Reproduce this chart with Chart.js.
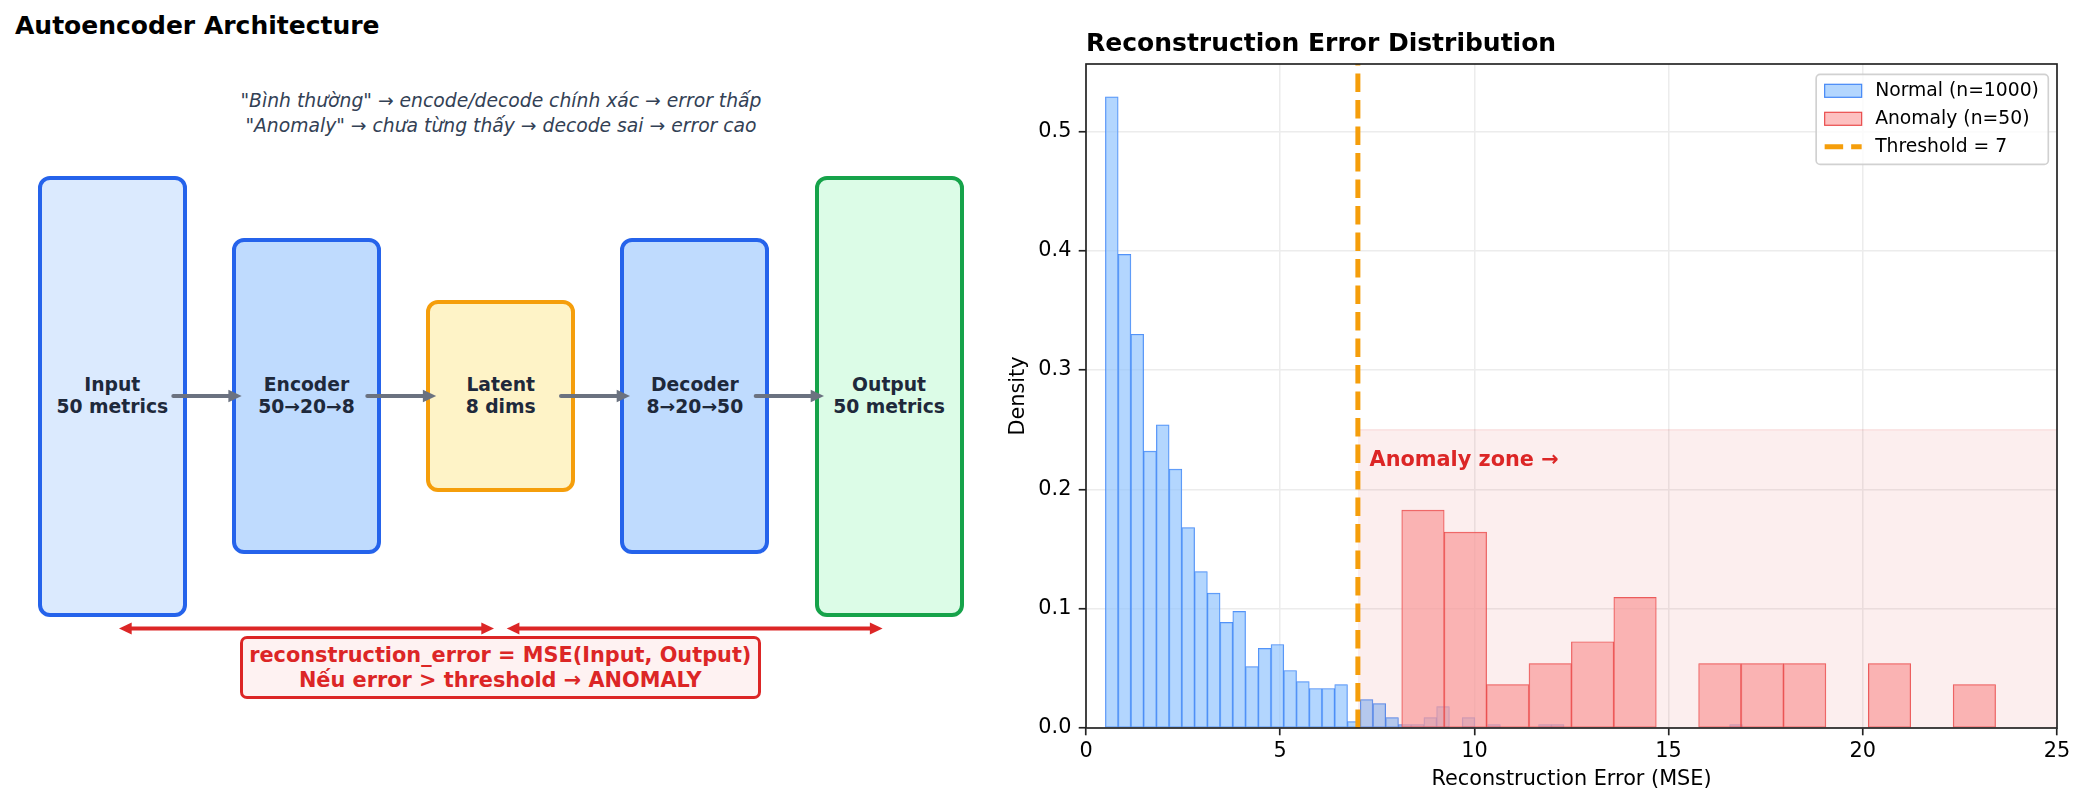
<!DOCTYPE html>
<html>
<head>
<meta charset="utf-8">
<script src="https://cdn.jsdelivr.net/npm/chart.js@4.4.1/dist/chart.umd.min.js"></script>
<style>
html,body{margin:0;padding:0;background:#fff;}
body{width:2085px;height:806px;position:relative;overflow:hidden;font-family:'DejaVu Sans',sans-serif;}
.title{position:absolute;left:15px;top:10.8px;font-size:25px;line-height:30px;font-weight:bold;color:#000;white-space:nowrap;}
.sub{position:absolute;left:0;width:1002px;top:88px;text-align:center;font-size:18.75px;line-height:25px;font-style:italic;color:#334155;white-space:nowrap;}
.box{position:absolute;box-sizing:border-box;border:4px solid;border-radius:12px;display:flex;align-items:center;justify-content:center;text-align:center;font-weight:bold;font-size:18.75px;line-height:22px;color:#1e293b;white-space:nowrap;}
.errbox{position:absolute;box-sizing:border-box;left:239.8px;top:636px;width:521px;height:63.3px;border:3px solid #dc2626;border-radius:7px;background:#fef2f2;display:flex;align-items:center;justify-content:center;text-align:center;font-weight:bold;font-size:20.83px;line-height:24.2px;color:#dc2626;white-space:nowrap;}
svg.arrows{position:absolute;left:0;top:0;}
#chartCanvas{position:absolute;left:960px;top:0;}
</style>
</head>
<body>
<div class="title">Autoencoder Architecture</div>
<div class="sub">"Bình thường" → encode/decode chính xác → error thấp<br>"Anomaly" → chưa từng thấy → decode sai → error cao</div>

<div class="box" style="left:37.8px;top:175.5px;width:149px;height:441px;background:#dbeafe;border-color:#2563eb;">Input<br>50 metrics</div>
<div class="box" style="left:232px;top:238px;width:149px;height:316px;background:#bfdbfe;border-color:#2563eb;">Encoder<br>50→20→8</div>
<div class="box" style="left:426.2px;top:300px;width:149px;height:192px;background:#fef3c7;border-color:#f59e0b;">Latent<br>8 dims</div>
<div class="box" style="left:620.4px;top:238px;width:149px;height:316px;background:#bfdbfe;border-color:#2563eb;">Decoder<br>8→20→50</div>
<div class="box" style="left:814.6px;top:175.5px;width:149px;height:441px;background:#dcfce7;border-color:#16a34a;">Output<br>50 metrics</div>

<svg class="arrows" width="960" height="806" xmlns="http://www.w3.org/2000/svg">
  <g stroke="#6b7280" stroke-width="4" stroke-linecap="round" fill="#6b7280">
    <line x1="173.3" y1="396" x2="230" y2="396"/><polygon stroke="none" points="241.7,396 228.4,389.8 228.4,402.2"/>
    <line x1="367.3" y1="396" x2="424.5" y2="396"/><polygon stroke="none" points="436.2,396 422.9,389.8 422.9,402.2"/>
    <line x1="561" y1="396" x2="618.3" y2="396"/><polygon stroke="none" points="630,396 616.7,389.8 616.7,402.2"/>
    <line x1="755.7" y1="396" x2="812.3" y2="396"/><polygon stroke="none" points="824,396 810.7,389.8 810.7,402.2"/>
  </g>
  <g stroke="#dc2626" stroke-width="4" fill="#dc2626">
    <line x1="129" y1="628.5" x2="484" y2="628.5"/>
    <polygon stroke="none" points="119,628.5 131.7,622.6 131.7,634.4"/>
    <polygon stroke="none" points="494,628.5 481.3,622.6 481.3,634.4"/>
    <line x1="516.7" y1="628.5" x2="872.6" y2="628.5"/>
    <polygon stroke="none" points="506.7,628.5 519.4,622.6 519.4,634.4"/>
    <polygon stroke="none" points="882.6,628.5 869.9,622.6 869.9,634.4"/>
  </g>
</svg>

<div class="errbox">reconstruction_error = MSE(Input, Output)<br>Nếu error &gt; threshold → ANOMALY</div>

<canvas id="chartCanvas" width="1125" height="806" style="width:1125px;height:806px;"></canvas>

<script>
// ---------- data ----------
const normalBinCenters = [0.664, 0.992, 1.320, 1.648, 1.976, 2.304, 2.632, 2.960, 3.288, 3.616,
  3.944, 4.272, 4.600, 4.928, 5.256, 5.584, 5.912, 6.240, 6.568, 6.896,
  7.224, 7.552, 7.880, 8.208, 8.536, 8.864, 9.192, 9.520, 9.848, 10.176,
  10.504, 10.832, 11.160, 11.488, 11.816, 12.144, 12.472, 12.800, 13.128, 13.456,
  13.784, 14.112, 14.440, 14.768, 15.096, 15.424, 15.752, 16.080, 16.408, 16.736];
const normalDensity = [0.529, 0.397, 0.330, 0.232, 0.254, 0.217, 0.168, 0.131, 0.113, 0.0885,
  0.0978, 0.0515, 0.0667, 0.070, 0.0482, 0.0389, 0.0331, 0.0331, 0.0364, 0.0053,
  0.0238, 0.0204, 0.0087, 0.0028, 0.0028, 0.0087, 0.0179, 0, 0.0087, 0,
  0.0028, 0, 0, 0, 0.0028, 0.0028, 0, 0, 0, 0,
  0, 0, 0, 0, 0, 0, 0, 0, 0, 0.0028];
const anomalyBinCenters = [8.676, 9.768, 10.860, 11.952, 13.044, 14.136, 15.228,
  16.320, 17.412, 18.504, 19.596, 20.688, 21.780, 22.872];
const anomalyDensity = [0.1826, 0.1641, 0.0364, 0.054, 0.0723, 0.1095, 0,
  0.054, 0.054, 0.054, 0, 0.054, 0, 0.0364];
const thresholdValue = 7;
const zoneRange = [7, 25];
const zoneTop = 0.25;
const xTickValues = [0, 5, 10, 15, 20, 25];
const yTickValues = [0.0, 0.1, 0.2, 0.3, 0.4, 0.5];
const xRange = [0, 25];
const yRange = [0, 0.5565];
const seriesLabels = ['Normal (n=1000)', 'Anomaly (n=50)', 'Threshold = 7'];
const zoneLabelText = 'Anomaly zone →';
const zoneLabelAt = {x: 7.3, y: 0.22};

// ---------- chart ----------
Chart.defaults.font.family = "'DejaVu Sans', sans-serif";
Chart.defaults.color = '#000';

const FONT = "'DejaVu Sans', sans-serif";

const framePlugin = {
  id: 'frame',
  afterDatasetsDraw(chart) {
    const {ctx, chartArea: a} = chart;
    ctx.save();
    const px = chart.scales.x.getPixelForValue(zoneLabelAt.x);
    const py = chart.scales.y.getPixelForValue(zoneLabelAt.y);
    ctx.font = "bold 20.83px " + FONT;
    ctx.fillStyle = '#dc2626';
    ctx.textAlign = 'left';
    ctx.textBaseline = 'alphabetic';
    ctx.fillText(zoneLabelText, px, py);
    ctx.strokeStyle = '#222';
    ctx.lineWidth = 1.67;
    ctx.strokeRect(a.left, a.top, a.right - a.left, a.bottom - a.top);
    ctx.restore();
  },
  afterDraw(chart) {
    const {ctx, chartArea: a} = chart;
    const items = [0, 1, 2].map(i => chart.data.datasets[i]);
    ctx.save();
    ctx.font = "18.75px " + FONT;
    const textW = Math.max(...items.map(d => ctx.measureText(d.label).width));
    const w = 59 + textW + 9.4;
    const h = 90;
    const right = a.right - 8.7;
    const top = a.top + 10.4;
    const left = right - w;
    ctx.beginPath();
    ctx.roundRect(left, top, w, h, 4);
    ctx.fillStyle = 'rgba(255,255,255,0.8)';
    ctx.fill();
    ctx.strokeStyle = 'rgba(204,204,204,0.9)';
    ctx.lineWidth = 1.67;
    ctx.stroke();
    items.forEach((d, k) => {
      const cy = top + 16.4 + k * 28;
      const hx = left + 8.5;
      if (d.type === 'line') {
        ctx.beginPath();
        ctx.setLineDash(d.borderDash);
        ctx.lineWidth = d.borderWidth;
        ctx.strokeStyle = d.borderColor;
        ctx.moveTo(hx, cy);
        ctx.lineTo(hx + 37, cy);
        ctx.stroke();
        ctx.setLineDash([]);
      } else {
        ctx.fillStyle = d.backgroundColor;
        ctx.fillRect(hx, cy - 6.5, 37, 13);
        ctx.strokeStyle = d.borderColor;
        ctx.lineWidth = 1.2;
        ctx.strokeRect(hx, cy - 6.5, 37, 13);
      }
      ctx.fillStyle = '#000';
      ctx.textAlign = 'left';
      ctx.textBaseline = 'middle';
      ctx.fillText(d.label, hx + 50.5, cy + 0.5);
    });
    ctx.restore();
  }
};

const tickFont = {family: FONT, size: 20.8, lineHeight: 1.2};

new Chart(document.getElementById('chartCanvas'), {
  type: 'bar',
  data: {
    datasets: [
      {
        type: 'bar',
        label: seriesLabels[0],
        data: normalBinCenters.map((c, i) => ({x: c, y: normalDensity[i]})),
        xAxisID: 'x',
        backgroundColor: 'rgba(147,197,253,0.7)',
        borderColor: 'rgba(59,130,246,0.95)',
        borderWidth: 0.75,
        borderSkipped: false,
        grouped: false,
        barPercentage: 1,
        categoryPercentage: 1,
        order: 3
      },
      {
        type: 'bar',
        label: seriesLabels[1],
        data: anomalyBinCenters.map((c, i) => ({x: c, y: anomalyDensity[i]})),
        xAxisID: 'x2',
        backgroundColor: 'rgba(252,165,165,0.7)',
        borderColor: 'rgba(230,50,50,0.85)',
        borderWidth: 0.75,
        borderSkipped: false,
        grouped: false,
        barPercentage: 1,
        categoryPercentage: 1,
        order: 2
      },
      {
        type: 'line',
        label: seriesLabels[2],
        data: [{x: thresholdValue, y: yRange[0]}, {x: thresholdValue, y: yRange[1]}],
        xAxisID: 'x',
        borderColor: '#f59e0b',
        borderWidth: 5,
        borderDash: [18.5, 8],
        borderCapStyle: 'butt',
        pointRadius: 0,
        fill: false,
        order: 0
      },
      {
        type: 'line',
        label: 'zone',
        data: [{x: zoneRange[0], y: zoneTop}, {x: zoneRange[1], y: zoneTop}],
        xAxisID: 'x',
        borderColor: 'rgba(220,38,38,0.1)',
        borderWidth: 1.5,
        backgroundColor: 'rgba(220,38,38,0.08)',
        pointRadius: 0,
        fill: 'origin',
        order: 1
      }
    ]
  },
  options: {
    responsive: false,
    animation: false,
    events: [],
    layout: {padding: {left: 0, right: 28, top: 0, bottom: 0}},
    plugins: {
      legend: {display: false},
      tooltip: {enabled: false},
      title: {
        display: true,
        text: 'Reconstruction Error Distribution',
        align: 'start',
        fullSize: false,
        color: '#000',
        font: {family: FONT, size: 25, weight: 'bold', lineHeight: 1},
        padding: {top: 31.5, bottom: 7.5}
      }
    },
    scales: {
      x: {
        type: 'linear',
        position: 'bottom',
        min: xRange[0], max: xRange[1],
        offset: false,
        afterBuildTicks: s => { s.ticks = xTickValues.map(v => ({value: v})); },
        afterFit: s => { s.height = 78; },
        ticks: {font: tickFont, color: '#000', padding: 4, maxRotation: 0, autoSkip: false, includeBounds: false,
                callback: v => String(v)},
        grid: {offset: false, color: '#ececec', lineWidth: 1.5, drawTicks: true, tickLength: 7.3, tickColor: '#222', tickWidth: 1.67},
        border: {display: false},
        title: {display: true, text: 'Reconstruction Error (MSE)', color: '#000',
                font: {family: FONT, size: 20.8, lineHeight: 1.2}, padding: {top: 0, bottom: 13.8}}
      },
      x2: {
        type: 'linear',
        position: 'bottom',
        display: false,
        min: xRange[0], max: xRange[1],
        offset: false,
        grid: {offset: false}
      },
      y: {
        type: 'linear',
        position: 'left',
        min: yRange[0], max: yRange[1],
        afterBuildTicks: s => { s.ticks = yTickValues.map(v => ({value: v})); },
        afterFit: s => { s.width = 126; },
        ticks: {font: tickFont, color: '#000', padding: 7.3, includeBounds: false,
                callback: v => Number(v).toFixed(1)},
        grid: {color: '#ececec', lineWidth: 1.5, drawTicks: true, tickLength: 7.3, tickColor: '#222', tickWidth: 1.67},
        border: {display: false},
        title: {display: true, text: 'Density', color: '#000',
                font: {family: FONT, size: 20.8, lineHeight: 1.2}, padding: {top: 46.2, bottom: 0}}
      }
    }
  },
  plugins: [framePlugin]
});
</script>
</body>
</html>
